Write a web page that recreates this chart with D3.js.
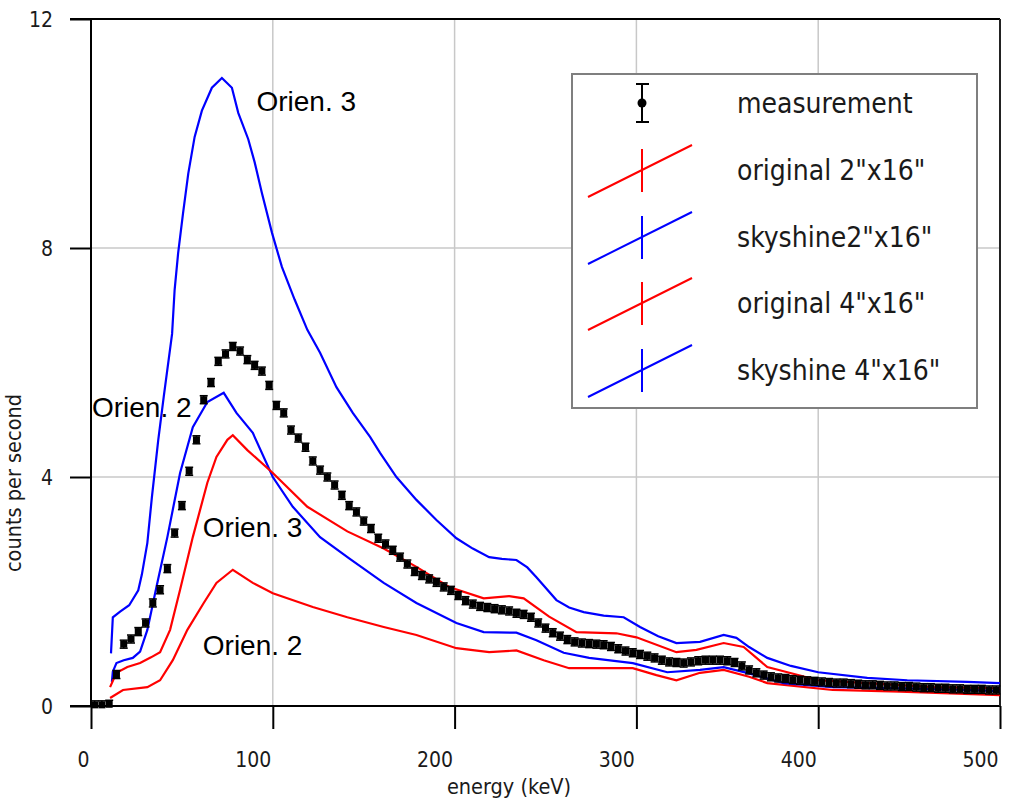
<!DOCTYPE html>
<html>
<head>
<meta charset="utf-8">
<script src="https://cdn.jsdelivr.net/npm/d3@7"></script>
<style>
  html, body { margin: 0; padding: 0; background: #ffffff; }
  svg { display: block; }
  .tick-label { font-family: "DejaVu Sans Condensed", "DejaVu Sans", sans-serif; font-size: 21px; fill: #1a1a1a; }
  .axis-title { font-family: "DejaVu Sans Condensed", "DejaVu Sans", sans-serif; font-size: 21.5px; fill: #1a1a1a; }
  .legend-text { font-family: "DejaVu Sans Condensed", "DejaVu Sans", sans-serif; font-size: 28px; fill: #1a1a1a; }
  .annot { font-family: "Liberation Sans", Arial, sans-serif; font-size: 28px; fill: #000; }
</style>
</head>
<body>
<svg id="chart" width="1011" height="801"></svg>
<script>
// ---------------- data ----------------
const xTicks = [0, 100, 200, 300, 400, 500];
const yTicks = [0, 4, 8, 12];

// measurement (black points with error bars)
const measEnergy = [2,6,10,14,18,22,26,30,34,38,
  42,46,50,54,58,62,66,70,74,78,
  82,86,90,94,98,102,106,110,114,118,
  122,126,130,134,138,142,146,150,154,158,
  162,166,170,174,178,182,186,190,194,198,
  202,206,210,214,218,222,226,230,234,238,
  242,246,250,254,258,262,266,270,274,278,
  282,286,290,294,298,302,306,310,314,318,
  322,326,330,334,338,342,346,350,354,358,
  362,366,370,374,378,382,386,390,394,398,
  402,406,410,414,418,422,426,430,434,438,
  442,446,450,454,458,462,466,470,474,478,
  482,486,490,494,498];
const measCounts = [0.02,0.02,0.03,0.55,1.08,1.17,1.3,1.45,1.8,2.03,
  2.4,3.02,3.5,4.1,4.65,5.35,5.65,6.02,6.15,6.28,
  6.2,6.05,5.95,5.85,5.6,5.25,5.12,4.82,4.68,4.52,
  4.28,4.12,4.0,3.86,3.68,3.5,3.39,3.23,3.1,2.93,
  2.83,2.72,2.6,2.48,2.35,2.28,2.22,2.16,2.08,2.02,
  1.93,1.84,1.78,1.74,1.72,1.7,1.68,1.66,1.62,1.6,
  1.55,1.45,1.36,1.28,1.22,1.16,1.12,1.1,1.09,1.08,
  1.07,1.04,1.0,0.96,0.93,0.9,0.87,0.84,0.8,0.77,
  0.76,0.75,0.77,0.79,0.8,0.8,0.8,0.79,0.76,0.7,
  0.63,0.58,0.54,0.51,0.49,0.48,0.46,0.45,0.44,0.43,
  0.42,0.41,0.4,0.4,0.39,0.38,0.37,0.37,0.36,0.35,
  0.35,0.34,0.34,0.33,0.32,0.32,0.31,0.31,0.3,0.3,
  0.29,0.29,0.29,0.28,0.28];
const measError = 0.07;

// original 2"x16" (lower red, Orien. 2)
const orig2Energy = [10.5,17.6,31,38,45,53,62,69,78,89,100,122,141,161,179,201,219,234,249,263,298,311,322,335,348,362,372,408,445,500];
const orig2Counts = [0.14,0.28,0.33,0.45,0.8,1.33,1.8,2.15,2.38,2.15,1.97,1.73,1.55,1.38,1.24,1.01,0.94,0.97,0.8,0.66,0.66,0.54,0.45,0.58,0.63,0.51,0.4,0.28,0.25,0.19];

// skyshine2"x16" (lower blue, Orien. 2)
const sky2Energy = [11.5,12,14,18,23,27,31,36,42,49,56,64,73,80,89,100,111,126,142,161,179,201,216,234,245,260,274,298,317,335,348,362,381,408,445,482,500];
const sky2Counts = [0.42,0.6,0.75,0.8,0.84,0.95,1.33,2.08,2.95,4.07,4.87,5.31,5.47,5.12,4.77,4.0,3.48,2.95,2.58,2.15,1.8,1.45,1.29,1.28,1.15,0.93,0.84,0.75,0.59,0.63,0.68,0.57,0.4,0.33,0.31,0.28,0.26];

// original 4"x16" (upper red, Orien. 3)
const orig4Energy = [10.5,14,20,27,33,38,43.5,49,56,64,69,75,78,86,100,119,141,161,179,197,216,230,238,252,267,289,300,322,333,348,359,372,400,427,463,500];
const orig4Counts = [0.33,0.58,0.68,0.75,0.85,0.94,1.33,2.03,2.95,3.9,4.35,4.65,4.73,4.47,4.07,3.48,3.05,2.75,2.43,2.08,1.88,1.92,1.88,1.56,1.29,1.27,1.2,0.94,0.98,1.1,1.03,0.68,0.45,0.4,0.33,0.31];

// skyshine 4"x16" (upper blue, Orien. 3)
const sky4Energy = [11,12,16,21,26,28,31,33.5,37,40,44.6,46,47.9,50.6,53.5,57,61,66.5,72,77.5,81,86.5,90,94,99.6,105,112,119,126,135,144,153.5,159,168,179,190,201,210,219,226,234,240,245,256,263,271,282,293,302,312,322,335,348,355,362,372,385,400,427,449,482,500];
const sky4Counts = [0.92,1.55,1.65,1.76,2.02,2.3,2.85,3.65,4.65,5.4,6.5,7.27,7.9,8.6,9.3,9.94,10.4,10.8,10.97,10.8,10.36,9.9,9.5,8.96,8.26,7.67,7.1,6.57,6.17,5.57,5.12,4.7,4.42,4.0,3.6,3.25,2.93,2.75,2.6,2.57,2.55,2.42,2.25,1.85,1.72,1.64,1.58,1.55,1.38,1.22,1.1,1.12,1.24,1.19,1.03,0.84,0.7,0.59,0.49,0.45,0.42,0.40];

const legendLabels = ['measurement', 'original 2"x16"', 'skyshine2"x16"', 'original 4"x16"', 'skyshine 4"x16"'];
const legendColors = ['#000000', '#ff0000', '#0000ff', '#ff0000', '#0000ff'];

const annotations = [
  { text: 'Orien. 3', e: 91, v: 10.39 },
  { text: 'Orien. 2', e: 0.5, v: 5.05 },
  { text: 'Orien. 3', e: 61.5, v: 2.95 },
  { text: 'Orien. 2', e: 61.5, v: 0.89 }
];

// ---------------- layout ----------------
const svg = d3.select('#chart');
const plotLeft = 91, plotRight = 1000, plotTop = 19, plotBottom = 706;
const x = d3.scaleLinear().domain([0, 500]).range([plotLeft, plotRight]);
const y = d3.scaleLinear().domain([0, 12]).range([plotBottom, plotTop]);

// grid
const grid = svg.append('g');
grid.selectAll('line.vg').data(xTicks.filter(d => d > 0 && d < 500)).enter().append('line')
  .attr('x1', d => x(d)).attr('x2', d => x(d)).attr('y1', plotTop).attr('y2', plotBottom)
  .attr('stroke', '#c8c8c8').attr('stroke-width', 1.5);
grid.selectAll('line.hg').data(yTicks.filter(d => d > 0 && d < 12)).enter().append('line')
  .attr('x1', plotLeft).attr('x2', plotRight).attr('y1', d => y(d)).attr('y2', d => y(d))
  .attr('stroke', '#c8c8c8').attr('stroke-width', 1.5);

// axes
const xAxis = d3.axisBottom(x).tickValues(xTicks).tickSize(23).tickSizeOuter(0).tickFormat(d3.format('d'));
const gx = svg.append('g').attr('transform', `translate(0,${plotBottom})`).call(xAxis);
gx.select('.domain').remove();
gx.selectAll('.tick line').attr('stroke', '#000').attr('stroke-width', 2);
gx.selectAll('.tick text').attr('class', 'tick-label').attr('text-anchor', 'end')
  .attr('x', -2).attr('y', 61).attr('dy', 0);

const yAxis = d3.axisLeft(y).tickValues(yTicks).tickSize(21).tickSizeOuter(0).tickPadding(17);
const gy = svg.append('g').attr('transform', `translate(${plotLeft},0)`).call(yAxis);
gy.select('.domain').remove();
gy.selectAll('.tick line').attr('stroke', '#000').attr('stroke-width', 2);
gy.selectAll('.tick text').attr('class', 'tick-label').attr('dy', '0.36em');
gx.attr('font-size', null).attr('font-family', null);
gy.attr('font-size', null).attr('font-family', null);
svg.selectAll('.tick text').attr('fill', null);

// frame lines
svg.append('line').attr('x1', 70).attr('x2', plotRight).attr('y1', y(0)).attr('y2', y(0)).attr('stroke', '#000').attr('stroke-width', 2);
svg.append('line').attr('x1', 70).attr('x2', plotRight).attr('y1', y(12)).attr('y2', y(12)).attr('stroke', '#000').attr('stroke-width', 2);
svg.append('line').attr('x1', plotLeft).attr('x2', plotLeft).attr('y1', plotTop).attr('y2', plotBottom).attr('stroke', '#000').attr('stroke-width', 2);
svg.append('line').attr('x1', plotRight).attr('x2', plotRight).attr('y1', plotTop).attr('y2', plotBottom).attr('stroke', '#222').attr('stroke-width', 2);

// axis titles
svg.append('text').attr('class', 'axis-title').attr('x', 509).attr('y', 794).attr('text-anchor', 'middle').text('energy (keV)');
svg.append('text').attr('class', 'axis-title').attr('transform', 'translate(21,483) rotate(-90)').attr('text-anchor', 'middle').text('counts per second');

// curves
const line = d3.line().x(d => x(d[0])).y(d => y(d[1]));
const series = [
  { e: orig2Energy, c: orig2Counts, color: '#ff0000' },
  { e: sky2Energy, c: sky2Counts, color: '#0000ff' },
  { e: orig4Energy, c: orig4Counts, color: '#ff0000' },
  { e: sky4Energy, c: sky4Counts, color: '#0000ff' }
];
series.forEach(s => {
  svg.append('path').datum(s.e.map((e, i) => [e, s.c[i]]))
    .attr('d', line).attr('fill', 'none').attr('stroke', s.color).attr('stroke-width', 2.2);
});

// measurement points
const meas = measEnergy.map((e, i) => [e, measCounts[i]]);
const gm = svg.append('g');
gm.selectAll('line.err').data(meas).enter().append('line')
  .attr('x1', d => x(d[0])).attr('x2', d => x(d[0]))
  .attr('y1', d => y(d[1] + measError)).attr('y2', d => y(Math.max(0, d[1] - measError)))
  .attr('stroke', '#000').attr('stroke-width', 1.5);
gm.selectAll('line.capt').data(meas).enter().append('line')
  .attr('x1', d => x(d[0]) - 4).attr('x2', d => x(d[0]) + 4)
  .attr('y1', d => y(d[1] + measError)).attr('y2', d => y(d[1] + measError))
  .attr('stroke', '#000').attr('stroke-width', 1.5);
gm.selectAll('line.capb').data(meas).enter().append('line')
  .attr('x1', d => x(d[0]) - 4).attr('x2', d => x(d[0]) + 4)
  .attr('y1', d => y(Math.max(0, d[1] - measError))).attr('y2', d => y(Math.max(0, d[1] - measError)))
  .attr('stroke', '#000').attr('stroke-width', 1.5);
gm.selectAll('rect').data(meas).enter().append('rect')
  .attr('x', d => x(d[0]) - 3.5).attr('y', d => y(d[1]) - 3.5).attr('width', 7).attr('height', 7)
  .attr('fill', '#000');

// annotations
svg.selectAll('text.annot').data(annotations).enter().append('text')
  .attr('class', 'annot').attr('x', d => x(d.e)).attr('y', d => y(d.v)).text(d => d.text);

// legend
const lg = svg.append('g');
lg.append('rect').attr('x', 572).attr('y', 74).attr('width', 405).attr('height', 334)
  .attr('fill', '#fff').attr('stroke', '#7f7f7f').attr('stroke-width', 2);
const rowY = [103, 170, 237, 303, 370];
legendLabels.forEach((lab, i) => {
  const yc = rowY[i];
  const col = legendColors[i];
  if (i === 0) {
    lg.append('line').attr('x1', 642).attr('x2', 642).attr('y1', yc - 19).attr('y2', yc + 19).attr('stroke', col).attr('stroke-width', 2);
    lg.append('line').attr('x1', 636).attr('x2', 649).attr('y1', yc - 19).attr('y2', yc - 19).attr('stroke', col).attr('stroke-width', 2);
    lg.append('line').attr('x1', 636).attr('x2', 649).attr('y1', yc + 19).attr('y2', yc + 19).attr('stroke', col).attr('stroke-width', 2);
    lg.append('circle').attr('cx', 642).attr('cy', yc).attr('r', 4.5).attr('fill', col);
  } else {
    lg.append('line').attr('x1', 588).attr('x2', 692).attr('y1', yc + 27).attr('y2', yc - 25).attr('stroke', col).attr('stroke-width', 2);
    lg.append('line').attr('x1', 642).attr('x2', 642).attr('y1', yc - 21).attr('y2', yc + 22).attr('stroke', col).attr('stroke-width', 2);
  }
  lg.append('text').attr('class', 'legend-text').attr('x', 737).attr('y', yc + 10).text(lab);
});
</script>
</body>
</html>
